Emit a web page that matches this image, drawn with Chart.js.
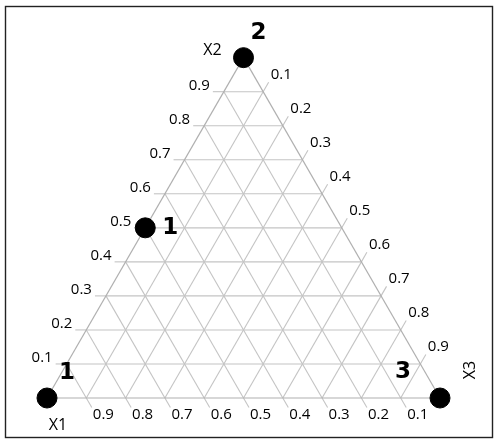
<!DOCTYPE html>
<html>
<head>
<meta charset="utf-8">
<script src="https://cdn.jsdelivr.net/npm/chart.js@4.4.1/dist/chart.umd.min.js"></script>
<style>
  html, body { margin: 0; padding: 0; background: #fff; }
  #wrap { width: 494px; height: 439px; position: relative; }
</style>
</head>
<body>
<div id="wrap"><canvas id="c" width="494" height="439"></canvas></div>
<script>
// Ternary diagram: grid levels, tick labels, component names and design points
const gridLevels = [0.1, 0.2, 0.3, 0.4, 0.5, 0.6, 0.7, 0.8, 0.9];
const tickLabels = ['0.1', '0.2', '0.3', '0.4', '0.5', '0.6', '0.7', '0.8', '0.9'];
const componentNames = ['X1', 'X2', 'X3'];

// Design points (mixture proportions) and their labels
const pointX1 = [1, 0, 0, 0.5];
const pointX2 = [0, 1, 0, 0.5];
const pointX3 = [0, 0, 1, 0];
const pointLabels = ['1', '2', '3', '1'];

const SQ3 = Math.sqrt(3) / 2;
function tern(a, b, c) {
  const s = a + b + c;
  return { x: (c + b / 2) / s, y: (b * SQ3) / s };
}

// ---- styling ----
const GRID = '#c4c4c4';
const EDGE = '#b0b0b0';
const TICK_LEN = 0.028;            // tick length in data units
const labelFont = '15px "Open Sans", sans-serif';
const nameFont = '16px "Open Sans", sans-serif';
const boldFont = 'bold 23px "DejaVu Sans", sans-serif';
// pixel offsets for point labels and component names
const pointLabelOffsets = [[20, -25], [15, -25], [-37, -26], [25, 0]];
const nameOffsets = [[11, 27], [-31, -7], [30, -28]];

const datasets = [];

// design points on top
datasets.push({
  type: 'scatter',
  data: pointX1.map((a, i) => tern(a, pointX2[i], pointX3[i])),
  pointRadius: 10,
  pointHoverRadius: 10,
  pointBackgroundColor: '#000',
  pointBorderColor: '#000',
  showLine: false
});

function seg(p, q, color, width) {
  datasets.push({
    type: 'scatter',
    data: [p, q],
    showLine: true,
    borderColor: color,
    borderWidth: width,
    pointRadius: 0,
    pointHoverRadius: 0,
    fill: false
  });
}

// outer triangle
seg(tern(1, 0, 0), tern(0, 1, 0), EDGE, 1.2);
seg(tern(0, 1, 0), tern(0, 0, 1), EDGE, 1.2);
seg(tern(1, 0, 0), tern(0, 0, 1), EDGE, 1.2);

const tickEnds = { left: [], right: [], bottom: [] };
gridLevels.forEach(t => {
  // constant X2 (horizontal) with tick on the left edge
  const a = tern(1 - t, t, 0);
  seg(a, tern(0, t, 1 - t), GRID, 1.1);
  const ae = { x: a.x - TICK_LEN, y: a.y };
  seg(a, ae, GRID, 1.1);
  tickEnds.left.push(ae);
  // constant X3 (parallel to the left edge) with tick on the right edge
  const b = tern(0, 1 - t, t);
  seg(tern(1 - t, 0, t), b, GRID, 1.1);
  const be = { x: b.x + TICK_LEN * 0.5, y: b.y + TICK_LEN * SQ3 };
  seg(b, be, GRID, 1.1);
  tickEnds.right.push(be);
  // constant X1 (parallel to the right edge) with tick on the bottom edge
  const c = tern(t, 0, 1 - t);
  seg(tern(t, 1 - t, 0), c, GRID, 1.1);
  const ce = { x: c.x + TICK_LEN * 0.5, y: c.y - TICK_LEN * SQ3 };
  seg(c, ce, GRID, 1.1);
  tickEnds.bottom.push(ce);
});

const ternaryText = {
  id: 'ternaryText',
  beforeDraw(chart) {
    const ctx = chart.ctx;
    ctx.save();
    ctx.fillStyle = '#fff';
    ctx.fillRect(0, 0, chart.width, chart.height);
    ctx.strokeStyle = '#222';
    ctx.lineWidth = 1.4;
    ctx.strokeRect(5.5, 6.5, 487, 431);
    ctx.restore();
  },
  afterDraw(chart) {
    const ctx = chart.ctx;
    const xs = chart.scales.x, ys = chart.scales.y;
    const px = p => ({ x: xs.getPixelForValue(p.x), y: ys.getPixelForValue(p.y) });
    ctx.save();
    ctx.fillStyle = '#000';
    ctx.font = labelFont;
    ctx.textBaseline = 'alphabetic';
    gridLevels.forEach((t, i) => {
      const l = px(tickEnds.left[i]);
      ctx.textAlign = 'right';
      ctx.fillText(tickLabels[i], l.x - 3, l.y - 2);
      const r = px(tickEnds.right[i]);
      ctx.textAlign = 'left';
      ctx.fillText(tickLabels[i], r.x + 2, r.y - 3);
      const b = px(tickEnds.bottom[i]);
      ctx.textAlign = 'left';
      ctx.fillText(tickLabels[i], b.x + 1, b.y + 11);
    });
    // component names at the vertices
    const verts = [tern(1, 0, 0), tern(0, 1, 0), tern(0, 0, 1)];
    ctx.font = nameFont;
    ctx.textAlign = 'center';
    ctx.textBaseline = 'middle';
    componentNames.forEach((name, i) => {
      const v = px(verts[i]);
      const cx = v.x + nameOffsets[i][0], cy = v.y + nameOffsets[i][1];
      if (i === 2) {
        ctx.save();
        ctx.translate(cx, cy);
        ctx.rotate(-Math.PI / 2);
        ctx.fillText(name, 0, 0);
        ctx.restore();
      } else {
        ctx.fillText(name, cx, cy);
      }
    });
    // design point labels
    ctx.font = boldFont;
    pointLabels.forEach((lab, i) => {
      const p = px(tern(pointX1[i], pointX2[i], pointX3[i]));
      ctx.fillText(lab, p.x + pointLabelOffsets[i][0], p.y + pointLabelOffsets[i][1]);
    });
    ctx.restore();
  }
};

new Chart(document.getElementById('c'), {
  type: 'scatter',
  data: { datasets },
  options: {
    responsive: false,
    animation: false,
    events: [],
    layout: { padding: 0, autoPadding: false },
    scales: {
      x: { type: 'linear', display: false, min: -47 / 393, max: 447 / 393 },
      y: { type: 'linear', display: false, min: -41 / 393, max: 398 / 393 }
    },
    plugins: { legend: { display: false }, tooltip: { enabled: false } }
  },
  plugins: [ternaryText]
});
</script>
</body>
</html>
